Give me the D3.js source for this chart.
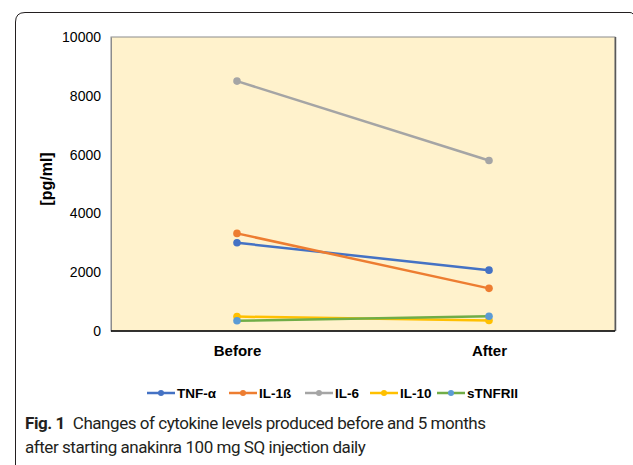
<!DOCTYPE html>
<html>
<head>
<meta charset="utf-8">
<script src="https://cdn.jsdelivr.net/npm/d3@7"></script>
<style>
  body { margin: 0; background: #fff; }
  svg { display: block; }
</style>
</head>
<body>
<script>
// values (pg/ml)
const categories = ['Before', 'After'];
const seriesNames = ['TNF-α', 'IL-1ß', 'IL-6', 'IL-10', 'sTNFRII'];
const tnfAlpha = [3000, 2070];
const il1b = [3320, 1450];
const il6 = [8500, 5800];
const il10 = [490, 360];
const stnfrii = [350, 500];
const yTicks = [0, 2000, 4000, 6000, 8000, 10000];

const lineColors = ['#4472c4', '#ed7d31', '#a5a5a5', '#ffc000', '#70ad47'];
const markerColors = ['#4472c4', '#ed7d31', '#a5a5a5', '#ffc000', '#5b9bd5'];

const series = seriesNames.map((name, i) => ({
  name,
  values: [tnfAlpha, il1b, il6, il10, stnfrii][i],
  line: lineColors[i],
  marker: markerColors[i]
}));

const width = 633, height = 465;
const margin = { top: 37, right: 18, bottom: 134, left: 111 };
const chartWidth = width - margin.left - margin.right;
const chartHeight = height - margin.top - margin.bottom;
const sans = "'Liberation Sans', Arial, sans-serif";

const svg = d3.select('body').append('svg')
  .attr('width', width)
  .attr('height', height);

// outer figure frame with rounded top-left corner
svg.append('path')
  .attr('d', 'M15.5,470 L15.5,22 Q15.5,12.5 25,12.5 L630,12.5 Q632,12.5 633,14')
  .attr('fill', 'none')
  .attr('stroke', '#231f20')
  .attr('stroke-width', 1);

const chart = svg.append('g')
  .attr('transform', `translate(${margin.left},${margin.top})`);

const x = d3.scalePoint()
  .domain(categories)
  .range([0, chartWidth])
  .padding(0.5);

const y = d3.scaleLinear()
  .domain([0, 10000])
  .range([chartHeight, 0]);

// plot area
chart.append('rect')
  .attr('width', chartWidth)
  .attr('height', chartHeight)
  .attr('fill', '#fff2cc')
  .attr('stroke', '#8c8c8c')
  .attr('stroke-width', 1);

chart.append('line')
  .attr('x1', chartWidth + 0.5).attr('x2', chartWidth + 0.5)
  .attr('y1', 0).attr('y2', chartHeight)
  .attr('stroke', '#595959')
  .attr('stroke-width', 1.5);

// y axis (labels only)
const yAxis = chart.append('g')
  .call(d3.axisLeft(y).tickValues(yTicks).tickSize(0).tickPadding(10).tickFormat(d3.format('d')));
yAxis.select('.domain').attr('stroke', '#8c8c8c');
yAxis.selectAll('text')
  .style('font-family', sans)
  .style('font-size', '14px')
  .attr('fill', '#000');

// x axis
const xAxis = chart.append('g')
  .attr('transform', `translate(0,${chartHeight})`)
  .call(d3.axisBottom(x).tickSize(0).tickPadding(14));
xAxis.select('.domain')
  .attr('d', `M0,0H${chartWidth}`)
  .attr('stroke', '#000')
  .attr('stroke-width', 1.5);
xAxis.selectAll('text')
  .style('font-family', sans)
  .style('font-size', '15px')
  .style('font-weight', 'bold')
  .attr('fill', '#000');

// y axis title
svg.append('text')
  .attr('transform', `translate(52,${margin.top + chartHeight / 2 - 5}) rotate(-90)`)
  .attr('text-anchor', 'middle')
  .style('font-family', sans)
  .style('font-size', '16px')
  .style('font-weight', 'bold')
  .text('[pg/ml]');

// series lines and markers
const line = d3.line()
  .x((d, i) => x(categories[i]))
  .y(d => y(d));

const groups = chart.selectAll('.series')
  .data(series)
  .enter()
  .append('g')
  .attr('class', 'series');

groups.append('path')
  .attr('d', d => line(d.values))
  .attr('fill', 'none')
  .attr('stroke', d => d.line)
  .attr('stroke-width', 2.5);

groups.selectAll('circle')
  .data(d => d.values.map(v => ({ v, color: d.marker })))
  .enter()
  .append('circle')
  .attr('cx', (d, i) => x(categories[i]))
  .attr('cy', d => y(d.v))
  .attr('r', 3.8)
  .attr('fill', d => d.color);

// legend
const legendX = [147, 229, 305, 370, 437];
const legend = svg.append('g')
  .attr('transform', 'translate(0,393)');

const items = legend.selectAll('.legend-item')
  .data(series)
  .enter()
  .append('g')
  .attr('class', 'legend-item')
  .attr('transform', (d, i) => `translate(${legendX[i]},0)`);

items.append('line')
  .attr('x1', 0).attr('x2', 28)
  .attr('stroke', d => d.line)
  .attr('stroke-width', 2.5);

items.append('circle')
  .attr('cx', 14)
  .attr('r', 3)
  .attr('fill', d => d.marker);

items.append('text')
  .attr('x', 30)
  .attr('y', 5)
  .style('font-family', sans)
  .style('font-size', '13.5px')
  .style('font-weight', 'bold')
  .text(d => d.name);

// caption
const caption = svg.append('text')
  .style('font-family', "Roboto, 'Open Sans', sans-serif")
  .style('font-size', '17px')
  .style('letter-spacing', '-0.45px')
  .attr('fill', '#231f20');

const line1 = caption.append('tspan').attr('x', 25).attr('y', 429);
line1.append('tspan').style('font-weight', 'bold').text('Fig. 1');
line1.append('tspan').attr('dx', 8).text('Changes of cytokine levels produced before and 5 months');
caption.append('tspan').attr('x', 25).attr('y', 453)
  .text('after starting anakinra 100 mg SQ injection daily');
</script>
</body>
</html>
